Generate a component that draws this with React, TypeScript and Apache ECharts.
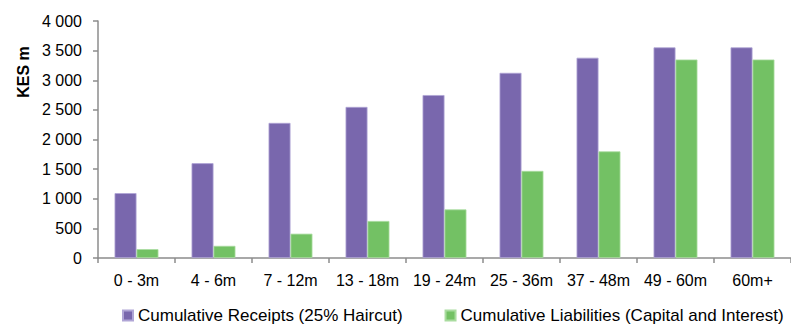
import React, { useEffect, useRef } from "react";
import * as echarts from "echarts";

const categories = ["0 - 3m", "4 - 6m", "7 - 12m", "13 - 18m", "19 - 24m", "25 - 36m", "37 - 48m", "49 - 60m", "60m+"];
const receipts = [1095, 1600, 2280, 2550, 2750, 3125, 3380, 3555, 3555];
const liabilities = [150, 205, 410, 625, 820, 1470, 1800, 3350, 3350];
const seriesNames = ["Cumulative Receipts (25% Haircut)", "Cumulative Liabilities (Capital and Interest)"];
const yTicks = [0, 500, 1000, 1500, 2000, 2500, 3000, 3500, 4000];

const FONT = "'Liberation Sans', Arial, sans-serif";

export default function App() {
  const ref = useRef<HTMLDivElement>(null);
  useEffect(() => {
    if (!ref.current) return;
    const chart = echarts.init(ref.current, undefined, { renderer: "svg" });
    chart.setOption({
      animation: false,
      backgroundColor: "#ffffff",
      grid: { left: 98, top: 21, bottom: 67, right: -18, containLabel: false },
      legend: {
        data: seriesNames,
        left: 117,
        top: 302,
        itemWidth: 10,
        itemHeight: 10,
        itemGap: 42,
        icon: "rect",
        textStyle: { fontFamily: FONT, fontSize: 17, color: "#000", lineHeight: 17 },
      },
      graphic: [
        {
          type: "text",
          x: 23,
          y: 72,
          rotation: Math.PI / 2,
          style: {
            text: "KES m",
            fontFamily: FONT,
            fontSize: 16,
            fontWeight: "bold",
            fill: "#000",
            align: "center",
            verticalAlign: "middle",
          },
        },
      ],
      xAxis: {
        type: "category",
        data: categories,
        axisLine: { lineStyle: { color: "#8c8c8c", width: 1.5 } },
        axisTick: { show: true, length: 5, lineStyle: { color: "#8c8c8c", width: 1.5 } },
        axisLabel: { fontFamily: FONT, fontSize: 16, color: "#000", margin: 14, interval: 0 },
      },
      yAxis: {
        type: "value",
        min: 0,
        max: yTicks[yTicks.length - 1],
        interval: 500,
        axisLine: { show: true, lineStyle: { color: "#8c8c8c", width: 1.5 } },
        axisTick: { show: true, length: 5, lineStyle: { color: "#8c8c8c", width: 1.5 } },
        splitLine: { show: false },
        axisLabel: {
          fontFamily: FONT,
          fontSize: 16,
          color: "#000",
          margin: 16,
          formatter: (v: number) => String(v).replace(/\B(?=(\d{3})+(?!\d))/g, " "),
        },
      },
      series: [
        {
          name: seriesNames[0],
          type: "bar",
          data: receipts,
          barGap: "0%",
          barCategoryGap: "43%",
          itemStyle: { color: "#7967ad", borderColor: "#b0a5d6", borderWidth: 0.8 },
        },
        {
          name: seriesNames[1],
          type: "bar",
          data: liabilities,
          itemStyle: { color: "#73c164", borderColor: "#a9dc9f", borderWidth: 0.8 },
        },
      ],
    });
    return () => chart.dispose();
  }, []);
  return <div ref={ref} style={{ width: 791, height: 325, position: "absolute", left: 0, top: 0 }} />;
}
